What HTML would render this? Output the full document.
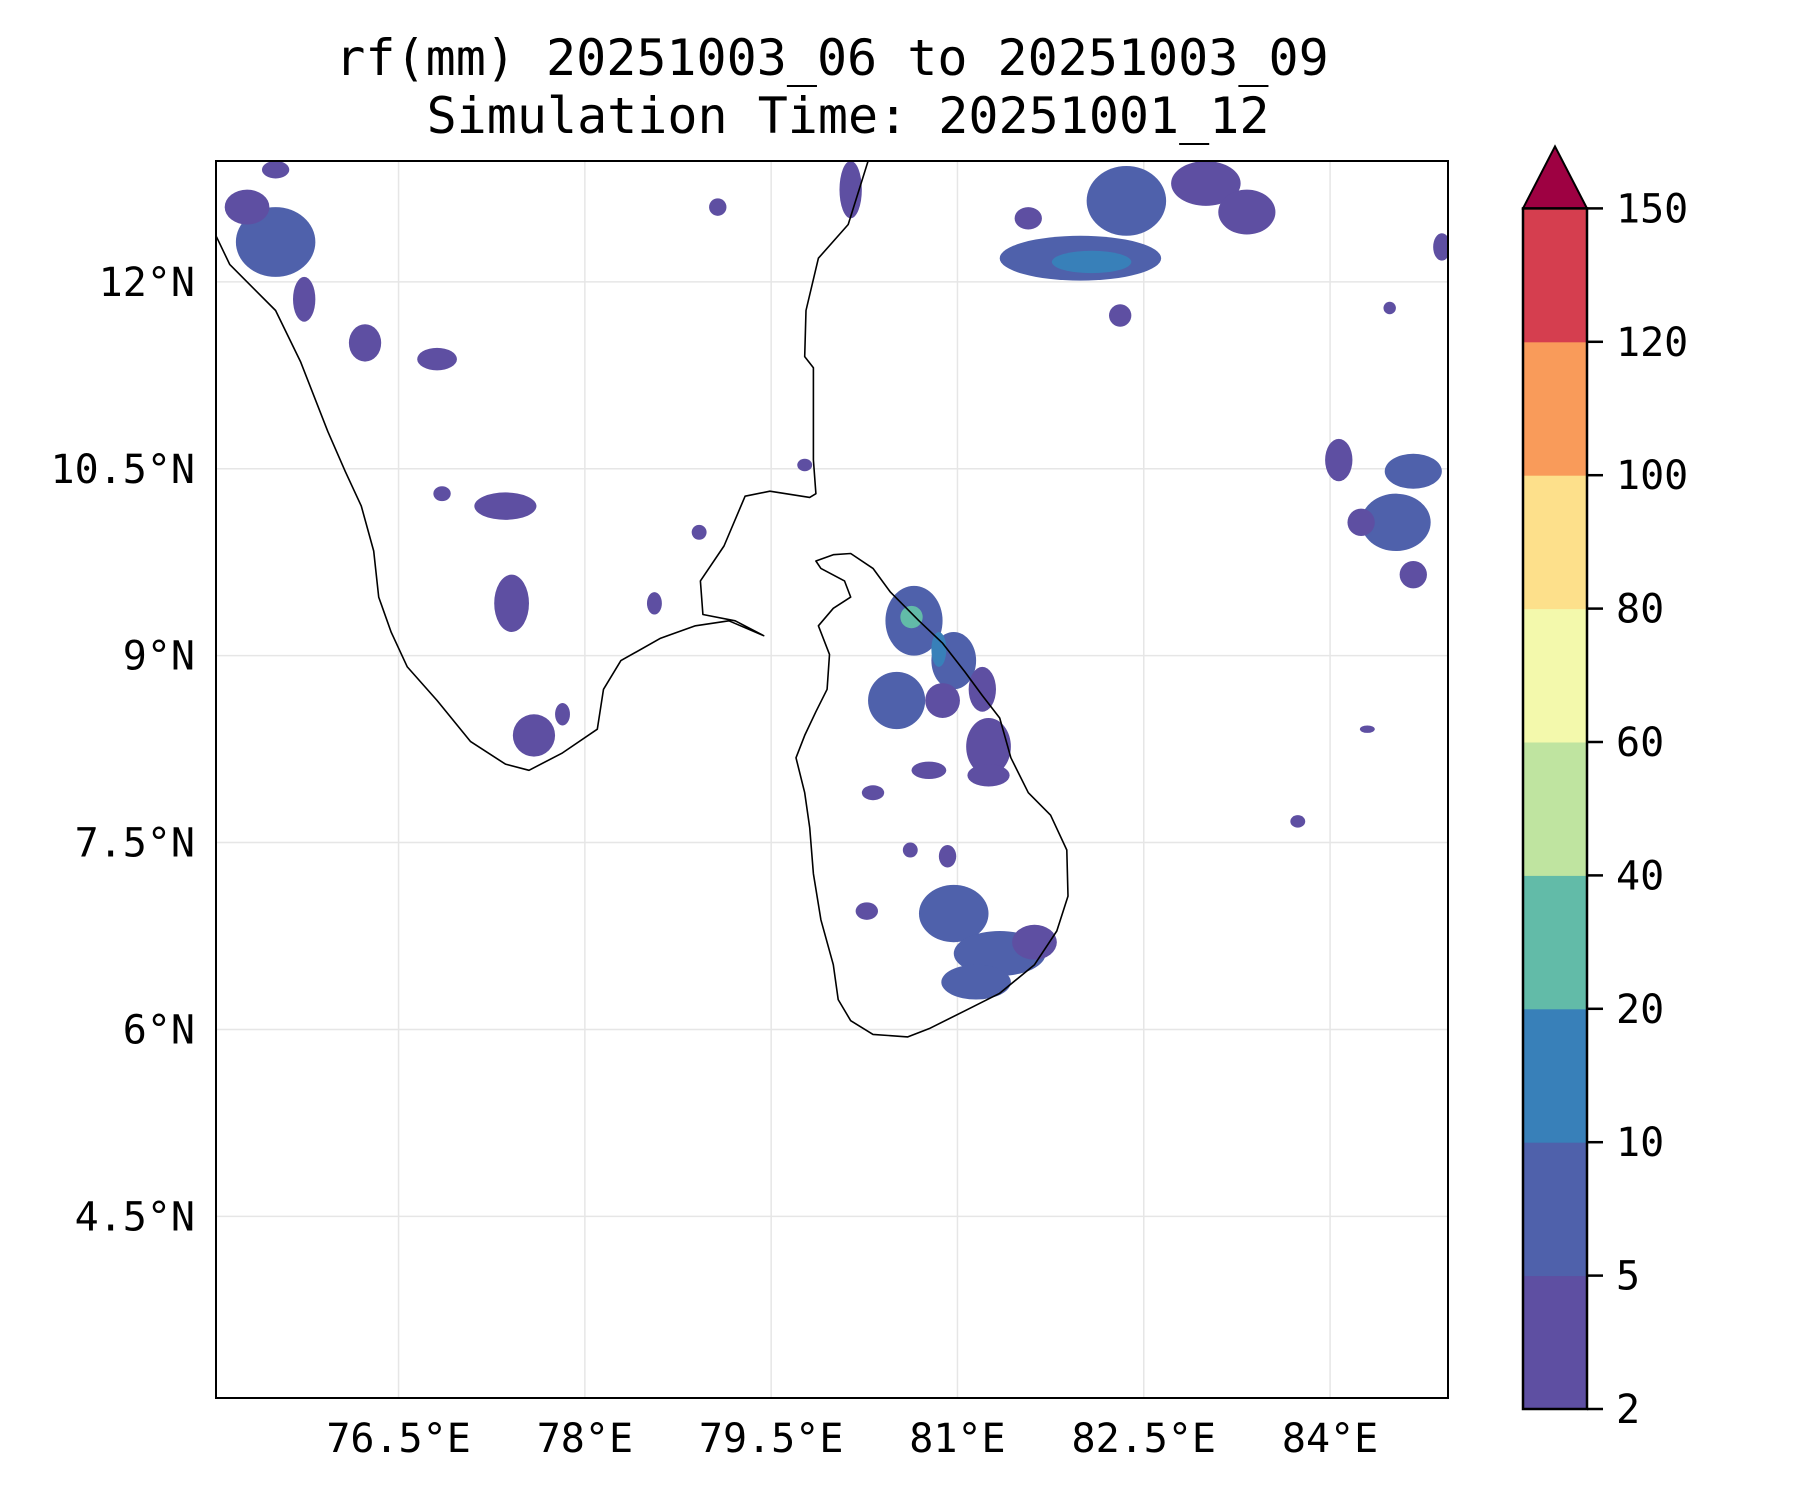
<!DOCTYPE html>
<html><head><meta charset="utf-8"><style>
html,body{margin:0;padding:0;background:#fff}
svg{display:block}
text{font-family:"DejaVu Sans Mono","Liberation Mono",monospace;fill:#000}
</style></head><body>
<svg id="chart" width="1800" height="1500" viewBox="0 0 1800 1500">
<text x="832" y="75" font-size="50" text-anchor="middle">rf(mm) 20251003_06 to 20251003_09</text>
<text x="848" y="133" font-size="50" text-anchor="middle">Simulation Time: 20251001_12</text>
<defs><clipPath id="mapclip"><rect x="216" y="161" width="1232" height="1237"/></clipPath></defs>
<g id="grid"></g>
<g id="rain" clip-path="url(#mapclip)"></g>
<g id="coast" clip-path="url(#mapclip)"></g>
<rect x="216" y="161" width="1232" height="1237" fill="none" stroke="#000" stroke-width="2"/>
<g id="xticks"></g>
<g id="yticks"></g>
<g id="cbar"></g>
</svg>
<script>
const lonTicks=[76.5,78,79.5,81,82.5,84];
const lonTickLabels=["76.5°E","78°E","79.5°E","81°E","82.5°E","84°E"];
const latTicks=[12,10.5,9,7.5,6,4.5];
const latTickLabels=["12°N","10.5°N","9°N","7.5°N","6°N","4.5°N"];
const levels=[2,5,10,20,40,60,80,100,120,150];
const levelColors=["#5e4fa2","#4f61ab","#3880b9","#62bba8","#bfe4a0","#f3f9ac","#fde08b","#f99b5a","#d53e4f"];
const extendColor="#9e0142";
const indiaLon=[74.9,75.03,75.14,75.28,75.51,75.71,75.93,76.07,76.20,76.30,76.34,76.44,76.57,76.81,77.08,77.36,77.55,77.82,78.10,78.15,78.29,78.61,78.89,79.16,79.44,79.21,78.95,78.93,79.12,79.29,79.49,79.81,79.86,79.84,79.84,79.77,79.78,79.88,80.12,80.28,80.3];
const indiaLat=[12.5,12.37,12.14,12.00,11.77,11.36,10.80,10.48,10.20,9.84,9.47,9.19,8.91,8.64,8.31,8.13,8.08,8.22,8.41,8.73,8.96,9.14,9.24,9.28,9.16,9.28,9.33,9.60,9.88,10.28,10.32,10.27,10.30,10.57,11.31,11.40,11.77,12.19,12.46,12.97,13.1];
const lankaLon=[80.14,80.32,80.46,80.69,80.88,81.06,81.20,81.34,81.43,81.57,81.75,81.88,81.89,81.80,81.62,81.34,81.06,80.78,80.60,80.32,80.14,80.04,80.00,79.90,79.84,79.81,79.77,79.70,79.77,79.86,79.95,79.97,79.88,80.00,80.14,80.09,79.90,79.86,80.00];
const lankaLat=[9.82,9.70,9.51,9.28,9.10,8.87,8.68,8.50,8.18,7.90,7.72,7.44,7.07,6.79,6.52,6.29,6.15,6.01,5.94,5.96,6.07,6.24,6.52,6.88,7.25,7.62,7.90,8.18,8.36,8.55,8.73,9.01,9.24,9.38,9.47,9.60,9.70,9.76,9.81];
const blobLon=[75.51,75.74,75.28,75.51,76.23,76.81,77.36,77.41,77.59,77.82,76.85,78.92,78.56,79.07,80.14,79.77,81.99,82.08,82.36,83.00,83.33,81.57,82.31,84.90,84.48,84.07,84.67,84.53,84.67,84.25,80.65,80.97,81.20,80.51,80.88,81.25,81.25,80.77,80.97,81.34,81.15,81.62,80.27,80.92,80.62,80.32,83.74,84.30,80.63,80.85];
const blobLat=[12.32,11.86,12.60,12.90,11.51,11.38,10.20,9.42,8.36,8.53,10.30,9.99,9.42,12.60,12.74,10.53,12.19,12.16,12.65,12.79,12.56,12.51,11.73,12.28,11.79,10.57,10.48,10.07,9.65,10.07,9.28,8.96,8.73,8.64,8.64,8.27,8.04,8.08,6.93,6.61,6.38,6.70,6.95,7.39,7.44,7.90,7.67,8.41,9.31,9.05];
const blobRx=[.32,.09,.18,.11,.13,.16,.25,.14,.17,.06,.07,.06,.06,.07,.09,.06,.65,.32,.32,.28,.23,.11,.09,.07,.05,.11,.23,.28,.11,.11,.23,.18,.11,.23,.14,.18,.17,.14,.28,.37,.28,.18,.09,.07,.06,.09,.06,.06,.09,.06];
const blobRy=[.28,.18,.14,.07,.15,.09,.11,.23,.17,.09,.06,.06,.09,.07,.23,.05,.18,.09,.28,.18,.18,.09,.09,.11,.05,.17,.14,.23,.11,.11,.28,.23,.18,.23,.14,.23,.09,.07,.23,.18,.14,.14,.07,.09,.06,.06,.05,.03,.09,.14];
const blobVal=[7,3,3,3,3,3,3,3,3,3,3,3,3,3,3,3,7,12,7,3,3,3,3,3,3,3,7,7,3,3,7,7,3,7,3,3,3,3,7,7,7,3,3,3,3,3,3,3,25,12];

const NS="http://www.w3.org/2000/svg";
const LON0=75.03,LAT1=12.97;
function xs(lon){return 216+(lon-LON0)*124.2;}
function ys(lat){return 161+(LAT1-lat)*124.6;}
function mk(tag,attrs,parent){const e=document.createElementNS(NS,tag);for(const k in attrs)e.setAttribute(k,attrs[k]);parent.appendChild(e);return e;}
function colorFor(v){for(let i=0;i<levels.length-1;i++){if(v<levels[i+1])return levelColors[i];}return extendColor;}

const grid=document.getElementById('grid');
lonTicks.forEach(function(t){
  const l=mk('line',{x1:xs(t),x2:xs(t),y1:161,y2:1398,stroke:'#e6e6e6','stroke-width':1.5},grid);
  
  
});
latTicks.forEach(function(t){
  const l=mk('line',{x1:216,x2:1448,y1:ys(t),y2:ys(t),stroke:'#e6e6e6','stroke-width':1.5},grid);
  
  
});

const rain=document.getElementById('rain');
blobLon.forEach(function(lo,i){
  const e=mk('ellipse',{cx:xs(lo),cy:ys(blobLat[i]),rx:blobRx[i]*124.2,ry:blobRy[i]*124.6,fill:colorFor(blobVal[i])},rain);
  
  
});

const coast=document.getElementById('coast');
function poly(lons,lats,name,close){
  let d='';lons.forEach(function(lo,i){d+=(i?'L':'M')+xs(lo).toFixed(1)+' '+ys(lats[i]).toFixed(1);});
  if(close)d+='Z';
  const p=mk('path',{d:d,fill:'none',stroke:'#000','stroke-width':1.6,'stroke-linejoin':'round'},coast);
  
  
}
poly(indiaLon,indiaLat,'india-coastline',false);
poly(lankaLon,lankaLat,'sri-lanka-coastline',true);

const xt=document.getElementById('xticks');
lonTicks.forEach(function(t,i){
  const tx=mk('text',{x:xs(t),y:1452,'font-size':40,'text-anchor':'middle'},xt);
  tx.textContent=lonTickLabels[i];
  
  
});
const yt=document.getElementById('yticks');
latTicks.forEach(function(t,i){
  const tx=mk('text',{x:195,y:ys(t)+14,'font-size':40,'text-anchor':'end'},yt);
  tx.textContent=latTickLabels[i];
  
  
});

const cb=document.getElementById('cbar');
const CBX=1523,CBW=64,CBB=1409,STEP=133.4;
function cy(i){return CBB-i*STEP;}
levelColors.forEach(function(c,i){
  const r=mk('rect',{x:CBX,y:cy(i+1),width:CBW,height:STEP+0.5,fill:c},cb);
  
  
});
const cbTop=cy(levels.length-1);
const tri=mk('polygon',{points:CBX+','+cbTop+' '+(CBX+CBW)+','+cbTop+' '+(CBX+CBW/2)+','+(cbTop-62),fill:extendColor,stroke:'#000','stroke-width':2},cb);


const fr=mk('rect',{x:CBX,y:cbTop,width:CBW,height:CBB-cbTop,fill:'none',stroke:'#000','stroke-width':2.5},cb);


levels.forEach(function(v,i){
  const l=mk('line',{x1:CBX+CBW,x2:CBX+CBW+16,y1:cy(i),y2:cy(i),stroke:'#000','stroke-width':2.5},cb);
  
  
  const tx=mk('text',{x:1616,y:cy(i)+14,'font-size':40},cb);
  tx.textContent=String(v);
  
  
});
</script>
</body></html>
